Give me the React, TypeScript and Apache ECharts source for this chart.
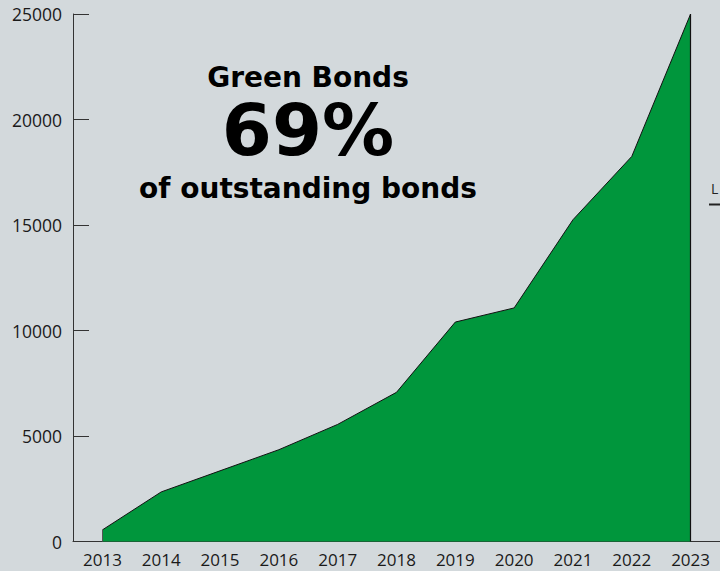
import React, { useEffect, useRef } from "react";
import * as echarts from "echarts";

const years = ["2013", "2014", "2015", "2016", "2017", "2018", "2019", "2020", "2021", "2022", "2023"];
const outstanding = [550, 2350, 3350, 4350, 5550, 7070, 10400, 11070, 15250, 18250, 25000];
const yTicks = [0, 5000, 10000, 15000, 20000, 25000];
const headline = "Green Bonds";
const bigNumber = "69%";
const subline = "of outstanding bonds";
const edgeLabel = "L";

export default function App() {
  const ref = useRef<HTMLDivElement>(null);
  useEffect(() => {
    if (!ref.current) return;
    const chart = echarts.init(ref.current, undefined, { renderer: "svg" });
    const first = years[0];
    const last = years[years.length - 1];
    const titleFont = "DejaVu Sans";
    chart.setOption({
      animation: false,
      backgroundColor: "#d3d9dc",
      grid: { left: 73, top: 14, width: 649, height: 527.5, containLabel: false },
      xAxis: {
        type: "category",
        data: years,
        boundaryGap: true,
        axisLine: { show: true, lineStyle: { color: "#333", width: 1 } },
        axisTick: { show: false },
        axisLabel: {
          color: "#1a1a1a",
          fontSize: 17,
          fontFamily: "Open Sans",
          margin: 9,
          interval: 0,
        },
        splitLine: { show: false },
      },
      yAxis: {
        type: "value",
        min: yTicks[0],
        max: yTicks[yTicks.length - 1],
        interval: 5000,
        axisLine: { show: true, lineStyle: { color: "#333", width: 1 } },
        axisTick: { show: true, inside: true, length: 16, lineStyle: { color: "#333", width: 1 } },
        axisLabel: {
          color: "#1a1a1a",
          fontSize: 17.5,
          fontFamily: "Open Sans",
          margin: 11,
          formatter: (v: number) => String(v),
        },
        splitLine: { show: false },
      },
      series: [
        {
          type: "line",
          data: outstanding,
          symbol: "none",
          lineStyle: { color: "#111", width: 1 },
          areaStyle: { color: "#00963c", opacity: 1 },
          z: 2,
          markLine: {
            silent: true,
            symbol: "none",
            label: { show: false },
            lineStyle: { type: "solid", width: 1 },
            data: [
              [
                { coord: [first, 0], lineStyle: { color: "#555", width: 1 } },
                { coord: [first, outstanding[0]] },
              ],
              [
                { coord: [last, 0], lineStyle: { color: "#111", width: 1.2 } },
                { coord: [last, outstanding[outstanding.length - 1]] },
              ],
            ],
          },
        },
      ],
      graphic: [
        {
          type: "text",
          x: 308,
          y: 77,
          style: {
            text: headline,
            fontSize: 28,
            lineHeight: 28,
            fontWeight: "bold",
            fontFamily: titleFont,
            fill: "#000",
            textAlign: "center",
            textVerticalAlign: "middle",
          },
        },
        {
          type: "text",
          x: 308,
          y: 130,
          style: {
            text: bigNumber,
            fontSize: 72,
            lineHeight: 56,
            fontWeight: "bold",
            fontFamily: titleFont,
            fill: "#000",
            textAlign: "center",
            textVerticalAlign: "middle",
          },
        },
        {
          type: "text",
          x: 308,
          y: 188,
          style: {
            text: subline,
            fontSize: 28,
            lineHeight: 28,
            fontWeight: "bold",
            fontFamily: titleFont,
            fill: "#000",
            textAlign: "center",
            textVerticalAlign: "middle",
          },
        },
        {
          type: "text",
          x: 711,
          y: 181,
          style: { text: edgeLabel, fontSize: 14, fontFamily: "Open Sans", fill: "#222" },
        },
        {
          type: "line",
          shape: { x1: 709, y1: 204.5, x2: 720, y2: 204.5 },
          style: { stroke: "#222", lineWidth: 2 },
        },
      ],
    });
    return () => chart.dispose();
  }, []);
  return (
    <div
      ref={ref}
      style={{ position: "fixed", left: 0, top: 0, width: 720, height: 571 }}
    />
  );
}
